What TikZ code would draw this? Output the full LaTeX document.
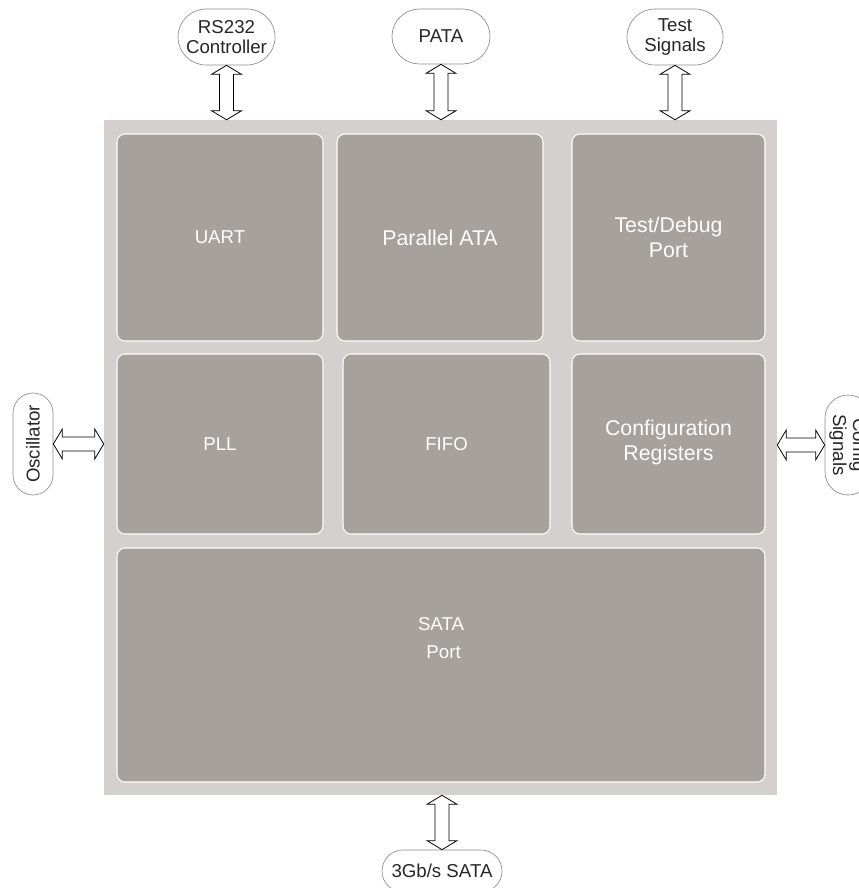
\documentclass[tikz,border=0pt]{standalone}
\usepackage{fontspec}
\setmainfont{Liberation Sans}
\usetikzlibrary{positioning,shapes.misc,fit,calc}
\definecolor{chipgray}{HTML}{D4D0CF}
\definecolor{blockgray}{HTML}{A6A19C}
\definecolor{termline}{HTML}{8C8C8C}
\tikzset{
    chip/.style={fill=chipgray, inner sep=0pt},
    block/.style={fill=blockgray, draw=white, line width=0.8pt, rounded corners=6pt, inner sep=0pt},
    blocktext/.style={text=white, align=center, inner sep=0pt},
    term/.style={rounded rectangle, draw=termline, line width=0.5pt, inner sep=0pt, align=center, text=black!85},
    bus/.style={draw=black, line width=0.6pt, fill=white, to path={
        let \p1=($(\tikztostart)!6.75pt!(\tikztotarget)$), \p2=($(\tikztotarget)!6.75pt!(\tikztostart)$) in
        -- ($(\p1)!11.25pt!90:(\tikztotarget)$) -- ($(\p1)!5.25pt!90:(\tikztotarget)$)
        -- ($(\p2)!5.25pt!90:(\tikztotarget)$) -- ($(\p2)!11.25pt!90:(\tikztotarget)$)
        -- (\tikztotarget)
        -- ($(\p2)!11.25pt!-90:(\tikztotarget)$) -- ($(\p2)!5.25pt!-90:(\tikztotarget)$)
        -- ($(\p1)!5.25pt!-90:(\tikztotarget)$) -- ($(\p1)!11.25pt!-90:(\tikztotarget)$)
        -- cycle}}
}

\begin{document}
\begin{tikzpicture}[x=0.75pt, y=-0.75pt, font=\fontsize{14}{15}\selectfont]
    \useasboundingbox (0,0) rectangle (859,888);
    \node[chip, fit={(104,120) (777,795)}] (chip) {};
    % blocks inside the chip
    \foreach \name/\xa/\ya/\xb/\yb/\fs/\bs/\dy/\txt in {uart/117/134/323/341/14/17/0/UART,
        pata/337/134/543/341/16/18.5/0/Parallel ATA, debug/572/134/765/341/16/18.5/0/{Test/Debug\\Port},
        pll/117/354/323/534/14/17/0/PLL, fifo/343/354/550/534/14/17/0/FIFO,
        config/572/354/765/534/16/18.5/1/{Configuration\\Registers}, sata/117/548/765/782/14/21/20/{SATA\\\ Port}} {
        \node[block, fit={(\xa,\ya) (\xb,\yb)}] (\name) {};
        \node[blocktext, font=\fontsize{\fs}{\bs}\selectfont] (\name-label) at ([yshift=\dy pt]\name.center) {\txt};
    }
    % external signals
    \foreach \name/\x/\y/\w/\h/\rot/\txt in {rs232/226.5/37/97/56/0/{RS232\\Controller}, patabus/441/36.5/98/55/0/PATA,
        testsig/675/37/96/56/0/{Test\\Signals}, osc/33/444/102/40/90/Oscillator,
        cfgsig/848/445/100/46/-90/{Config\\Signals}, sataio/442/871/120/42/0/{3Gb/s SATA}} {
        \node[term, minimum width=\w*0.75pt, minimum height=\h*0.75pt, rotate=\rot] (\name) at (\x,\y) {\txt};
    }
    \coordinate (rs232-in) at (rs232.south |- chip.north);
    \coordinate (pata-in) at (patabus.south |- chip.north);
    \coordinate (test-in) at (testsig.south |- chip.north);
    \coordinate (osc-in) at (osc.south -| chip.west);
    \coordinate (cfg-in) at (cfgsig.south -| chip.east);
    \coordinate (sata-out) at (sataio.north |- chip.south);
    \foreach \a/\b in {rs232.south/rs232-in, patabus.south/pata-in, testsig.south/test-in,
        osc.south/osc-in, cfgsig.south/cfg-in, sataio.north/sata-out}
        \draw[bus] (\a) to (\b);
\end{tikzpicture}
\end{document}
